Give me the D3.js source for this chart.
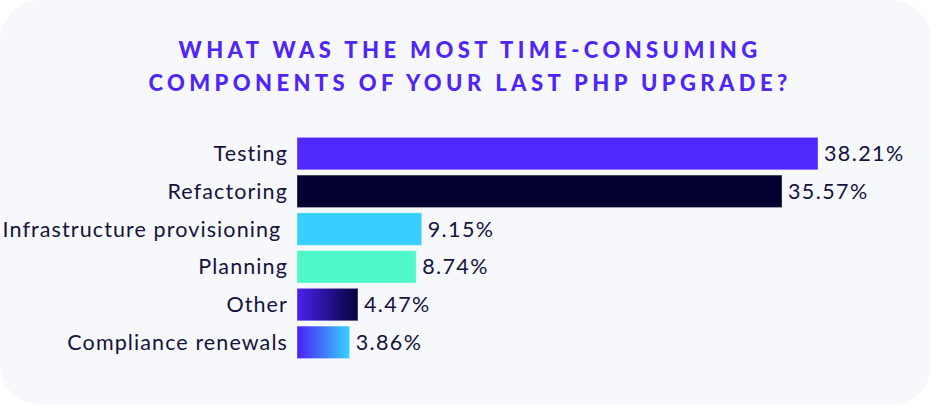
<!DOCTYPE html>
<html>
<head>
<meta charset="utf-8">
<script src="https://cdn.jsdelivr.net/npm/d3@7"></script>
<style>
  html, body { margin: 0; padding: 0; background: #ffffff; }
  svg { display: block; }
  text { font-family: Lato, "Noto Sans", sans-serif; }
</style>
</head>
<body>
<svg id="chart" width="936" height="408"></svg>
<script>
const titleLines = ["WHAT WAS THE MOST TIME-CONSUMING", "COMPONENTS OF YOUR LAST PHP UPGRADE?"];
const categories = ["Testing", "Refactoring", "Infrastructure provisioning ", "Planning", "Other", "Compliance renewals"];
const values = [38.21, 35.57, 9.15, 8.74, 4.47, 3.86];
const colors = ["#5128fd", "#03002f", "#38cfff", "#4ff7c9", "url(#gradOther)", "url(#gradCompliance)"];

const data = categories.map((c, i) => ({ category: c, value: values[i], color: colors[i] }));

const svg = d3.select("#chart");
const defs = svg.append("defs");

function grad(id, from, to) {
  const g = defs.append("linearGradient").attr("id", id)
    .attr("x1", "0%").attr("x2", "100%").attr("y1", "0%").attr("y2", "0%");
  g.append("stop").attr("offset", "0%").attr("stop-color", from);
  g.append("stop").attr("offset", "100%").attr("stop-color", to);
}
grad("gradOther", "#4a21ef", "#06023c");
grad("gradCompliance", "#4a1ff4", "#37d2ff");

// card
svg.append("rect")
  .attr("x", 0).attr("y", 0).attr("width", 931).attr("height", 405)
  .attr("rx", 40).attr("ry", 40)
  .attr("fill", "#f7f8fc");

// title
svg.append("g").selectAll("text").data(titleLines).join("text")
  .attr("x", 470)
  .attr("y", (d, i) => 57.5 + i * 33)
  .attr("text-anchor", "middle")
  .attr("fill", "#4f26f7")
  .attr("font-size", 22)
  .attr("font-weight", 900)
  .attr("letter-spacing", 4.4)
  .text(d => d);

const x = d3.scaleLinear().domain([0, 38.21]).range([297, 818]);
const y = d3.scaleBand().domain(categories).range([134.7, 361.2]).paddingInner(0.14).paddingOuter(0.07);

svg.append("g").selectAll("rect").data(data).join("rect")
  .attr("x", x(0))
  .attr("y", d => y(d.category))
  .attr("width", d => x(d.value) - x(0))
  .attr("height", y.bandwidth())
  .attr("fill", d => d.color)
  .attr("stroke", "rgba(255,255,255,0.35)")
  .attr("stroke-width", 1);

// category labels
svg.append("g").selectAll("text").data(data).join("text")
  .attr("x", 288)
  .attr("y", d => y(d.category) + y.bandwidth() / 2)
  .attr("dy", "0.35em")
  .attr("text-anchor", "end")
  .attr("fill", "#15123d")
  .attr("font-size", 21.5)
  .attr("letter-spacing", 1.1)
  .style("white-space", "pre")
  .text(d => d.category);

// value labels
svg.append("g").selectAll("text").data(data).join("text")
  .attr("x", d => x(d.value) + 6)
  .attr("y", d => y(d.category) + y.bandwidth() / 2)
  .attr("dy", "0.35em")
  .attr("fill", "#15123d")
  .attr("font-size", 21.5)
  .attr("letter-spacing", 1.4)
  .text(d => d3.format(".2f")(d.value) + "%");
</script>
</body>
</html>
